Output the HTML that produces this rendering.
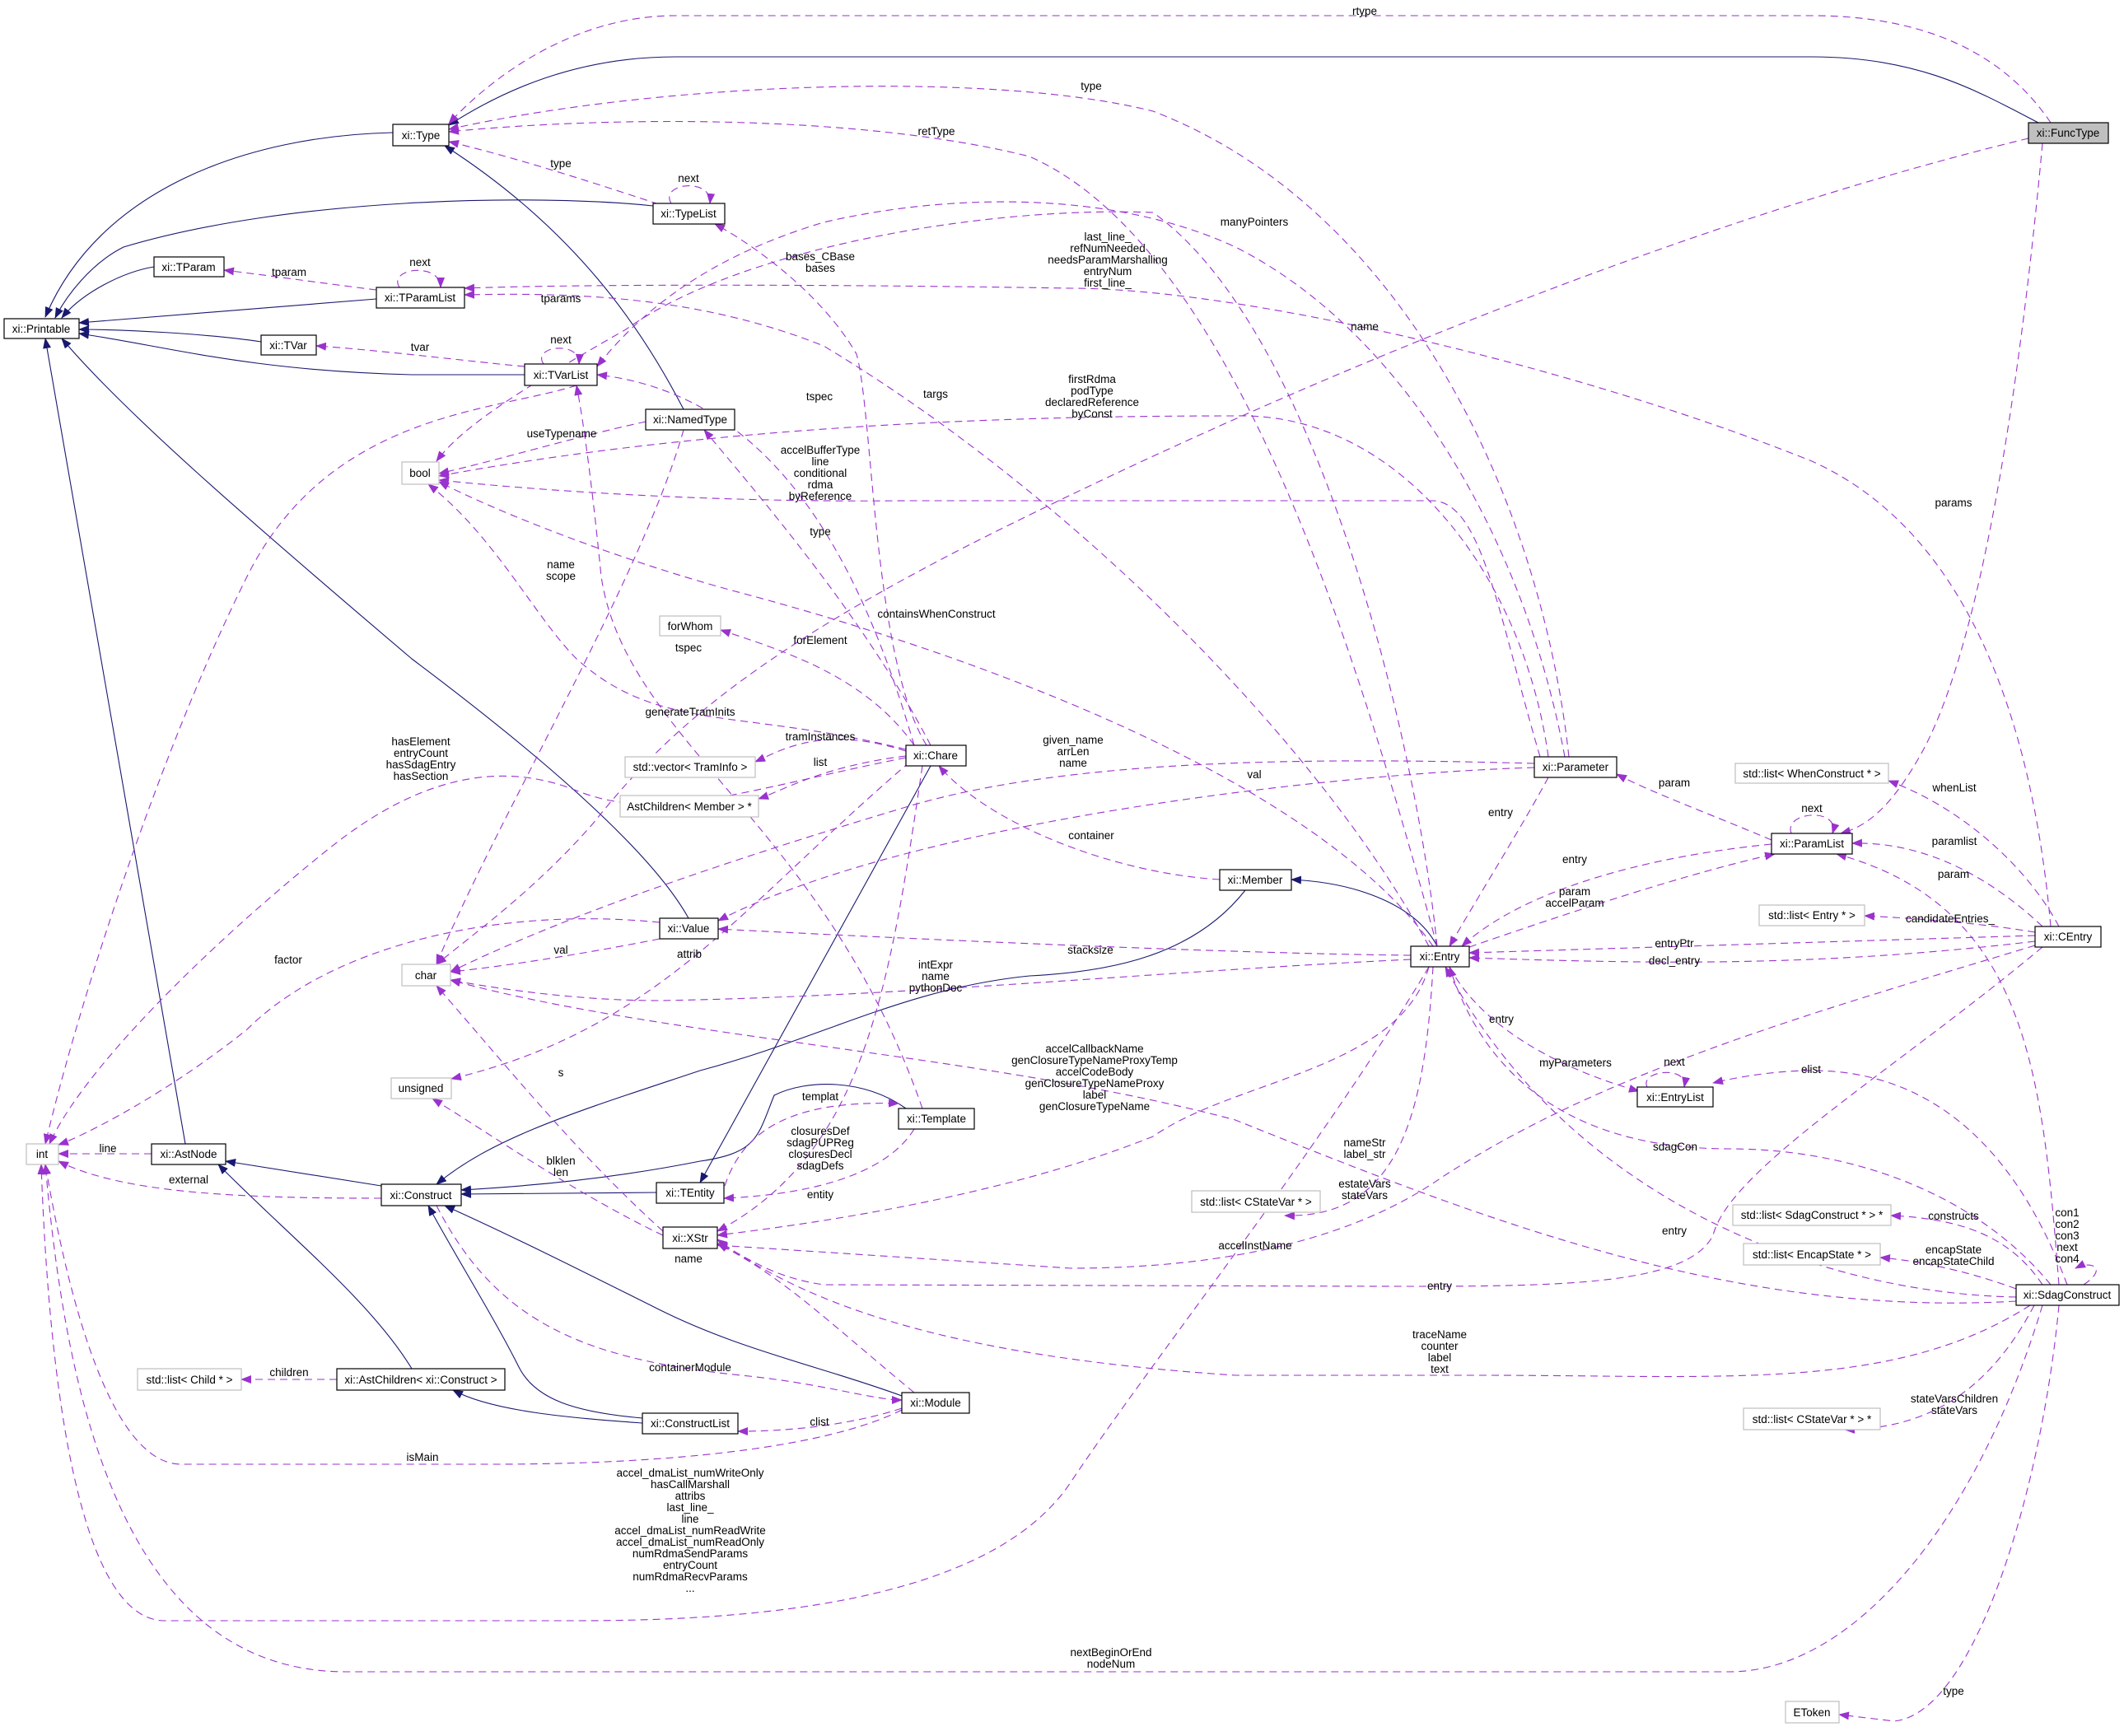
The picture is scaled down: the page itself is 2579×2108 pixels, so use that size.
<!DOCTYPE html>
<html><head><meta charset="utf-8"><style>
html,body{margin:0;padding:0;background:#fff;}
svg{display:block;}
text{font-family:"Liberation Sans",sans-serif;font-size:13.5px;fill:#000;}
.n{fill:#fff;stroke:#000;stroke-width:1.2;}
.g{fill:#fff;stroke:#bfbfbf;stroke-width:1.2;}
.d{fill:none;stroke:#9a32cd;stroke-width:1.1;stroke-dasharray:9,6;}
.s{fill:none;stroke:#191970;stroke-width:1.1;}
</style></head><body>
<svg width="2579" height="2108" viewBox="0 0 2579 2108" xmlns="http://www.w3.org/2000/svg">
<defs>
<marker id="p" markerWidth="13" markerHeight="10" refX="12" refY="5" orient="auto" markerUnits="userSpaceOnUse"><path d="M0,0 L13,5 L0,10 z" fill="#9a32cd"/></marker>
<marker id="b" markerWidth="13" markerHeight="10" refX="12" refY="5" orient="auto" markerUnits="userSpaceOnUse"><path d="M0,0 L13,5 L0,10 z" fill="#191970"/></marker>
</defs>
<g marker-end="url(#b)">
<path class="s" d="M2475,149 C2400,110 2330,69 2200,69 L820,69 C700,69 610,110 545,152"/>
<path class="s" d="M477,161 C300,165 120,230 55,385"/>
<path class="s" d="M793,250 C650,235 350,240 150,300 C110,320 80,360 67,386"/>
<path class="s" d="M187,324 C150,330 100,355 75,386"/>
<path class="s" d="M457,363 L96,392"/>
<path class="s" d="M317,415 C250,405 150,400 96,400"/>
<path class="s" d="M637,455 L500,455 C300,450 200,420 96,405"/>
<path class="s" d="M225,1389 L55,411"/>
<path class="s" d="M836,1115 C800,1050 700,950 500,800 C300,630 150,500 75,411"/>
<path class="s" d="M830,497 C780,400 700,280 540,177"/>
<path class="s" d="M1512,1081 C1450,1160 1350,1180 1250,1185 C1100,1200 1000,1260 850,1300 C700,1350 600,1380 530,1438"/>
<path class="s" d="M1745,1149 C1720,1100 1650,1072 1568,1068"/>
<path class="s" d="M1130,930 L850,1436"/>
<path class="s" d="M797,1448 L560,1450"/>
<path class="s" d="M1100,1346 C1050,1310 980,1310 940,1330 C920,1380 920,1400 850,1410 C750,1430 650,1440 560,1445"/>
<path class="s" d="M463,1440 L274,1410"/>
<path class="s" d="M500,1662 C450,1580 350,1500 265,1414"/>
<path class="s" d="M780,1722 C700,1715 650,1700 630,1660 C600,1600 550,1520 520,1464"/>
<path class="s" d="M780,1728 C700,1722 600,1715 550,1688"/>
<path class="s" d="M1095,1695 C1000,1660 900,1640 800,1590 C700,1540 620,1500 540,1464"/>
</g>
<g marker-end="url(#p)">
<path class="d" d="M2490,149 C2430,60 2330,19 2200,19 L820,19 C700,19 600,90 545,150"/>
<path class="d" d="M1905,919 C1870,600 1700,250 1400,135 C1200,85 800,100 545,157"/>
<path class="d" d="M1745,1149 C1650,800 1500,300 1250,190 C1050,140 750,140 545,160"/>
<path class="d" d="M800,248 C700,215 620,190 545,172"/>
<path class="d" d="M815,247 C800,222 865,215 862,247"/>
<path class="d" d="M1125,905 C1060,800 1060,500 1040,430 C1000,360 920,300 868,272"/>
<path class="d" d="M457,352 C400,345 330,335 272,328"/>
<path class="d" d="M485,349 C470,325 535,318 535,349"/>
<path class="d" d="M1735,1149 C1600,900 1300,600 1000,420 C850,360 700,355 564,358"/>
<path class="d" d="M2490,1125 C2470,900 2400,650 2200,560 C1900,440 1500,350 1300,350 C1000,345 700,345 564,350"/>
<path class="d" d="M637,445 C580,440 460,425 384,420"/>
<path class="d" d="M660,442 C645,420 705,413 703,442"/>
<path class="d" d="M1110,905 C1050,700 950,480 725,455"/>
<path class="d" d="M1120,1346 C1000,1000 760,900 730,700 C720,600 710,520 700,468"/>
<path class="d" d="M784,512 C700,530 600,560 533,575"/>
<path class="d" d="M1880,919 C1850,700 1700,500 1500,505 C1300,505 900,510 533,578"/>
<path class="d" d="M1870,919 C1820,750 1800,610 1740,608 L1100,608 C900,610 700,600 533,583"/>
<path class="d" d="M1745,1149 C1720,900 1600,400 1400,258 C1200,250 900,300 760,400 C620,480 560,520 530,560"/>
<path class="d" d="M1900,919 C1850,650 1700,400 1500,300 C1350,230 1150,235 1000,270 C900,300 800,350 725,445"/>
<path class="d" d="M2463,168 C2000,280 1500,500 1200,650 C900,800 800,900 720,1000 C650,1080 580,1130 530,1171"/>
<path class="d" d="M2480,174 C2450,500 2400,800 2330,920 C2290,990 2260,1005 2235,1012"/>
<path class="d" d="M1713,1160 C1500,1158 1100,1140 872,1128"/>
<path class="d" d="M1863,932 C1600,940 1100,1000 872,1118"/>
<path class="d" d="M1863,927 C1600,920 1300,920 1100,980 C800,1070 650,1130 547,1180"/>
<path class="d" d="M1481,1068 C1350,1060 1200,1000 1140,930"/>
<path class="d" d="M1784,1150 C1900,1110 2050,1060 2155,1037"/>
<path class="d" d="M2151,1020 C2080,990 2000,960 1963,940"/>
<path class="d" d="M2175,1012 C2165,985 2235,980 2225,1012"/>
<path class="d" d="M2151,1025 C2000,1040 1850,1080 1775,1149"/>
<path class="d" d="M1880,944 C1850,1000 1800,1080 1760,1149"/>
<path class="d" d="M2480,1125 C2400,1050 2320,1022 2249,1024"/>
<path class="d" d="M2500,1125 C2460,1050 2380,980 2293,948"/>
<path class="d" d="M2471,1132 C2400,1120 2320,1115 2264,1112"/>
<path class="d" d="M2471,1136 L1784,1157"/>
<path class="d" d="M2471,1143 C2200,1175 2000,1170 1784,1163"/>
<path class="d" d="M2500,1560 C2480,1300 2460,1100 2230,1037"/>
<path class="d" d="M1760,1174 C1800,1250 1900,1300 1990,1325"/>
<path class="d" d="M2000,1320 C1990,1300 2050,1293 2045,1320"/>
<path class="d" d="M2510,1560 C2450,1400 2350,1300 2200,1300 C2150,1300 2100,1310 2080,1315"/>
<path class="d" d="M2490,1560 C2400,1450 2250,1395 2100,1395 C1900,1395 1800,1300 1760,1174"/>
<path class="d" d="M2448,1575 C2200,1570 1900,1450 1755,1174"/>
<path class="d" d="M2530,1560 C2560,1540 2540,1530 2520,1540"/>
<path class="d" d="M2480,1560 C2440,1500 2380,1480 2296,1476"/>
<path class="d" d="M2448,1565 C2380,1540 2320,1530 2283,1527"/>
<path class="d" d="M2470,1585 C2420,1680 2350,1735 2240,1736"/>
<path class="d" d="M2500,1585 C2480,1800 2400,2080 2300,2090 L2233,2082"/>
<path class="d" d="M2480,1585 C2400,1850 2250,2030 2100,2030 L420,2030 C150,2030 80,1700 55,1414"/>
<path class="d" d="M2465,1585 C2300,1690 2100,1670 1800,1670 L1500,1670 C1200,1650 1000,1600 871,1505"/>
<path class="d" d="M2448,1580 C2100,1600 1800,1480 1500,1360 C1200,1280 800,1260 547,1190"/>
<path class="d" d="M2480,1150 C2300,1300 2100,1420 2080,1500 C2050,1560 1900,1562 1700,1562 L1000,1560 C930,1550 900,1520 871,1510"/>
<path class="d" d="M2471,1148 C2200,1230 1950,1300 1750,1430 C1650,1500 1500,1540 1300,1540 L871,1512"/>
<path class="d" d="M1740,1174 C1730,1350 1700,1480 1560,1476"/>
<path class="d" d="M1735,1174 C1700,1300 1500,1310 1400,1380 C1200,1460 950,1490 871,1500"/>
<path class="d" d="M1735,1174 C1600,1400 1400,1650 1300,1800 C1200,1950 900,1968 700,1968 L200,1968 C100,1968 60,1700 50,1414"/>
<path class="d" d="M1095,1712 C1000,1760 800,1778 600,1778 L220,1778 C120,1778 70,1500 55,1414"/>
<path class="d" d="M1095,1710 C1050,1725 980,1738 896,1738"/>
<path class="d" d="M530,1464 C600,1600 700,1650 900,1670 C1000,1680 1060,1700 1095,1700"/>
<path class="d" d="M409,1675 L293,1675"/>
<path class="d" d="M184,1401 L71,1401"/>
<path class="d" d="M463,1455 C300,1455 150,1450 71,1410"/>
<path class="d" d="M801,1120 C600,1100 400,1150 300,1250 C200,1330 100,1380 71,1390"/>
<path class="d" d="M801,1140 C700,1160 600,1175 547,1180"/>
<path class="d" d="M1105,925 C900,1100 800,1250 548,1310"/>
<path class="d" d="M880,1440 C900,1380 950,1335 1091,1340"/>
<path class="d" d="M1110,1371 C1080,1420 1000,1450 879,1455"/>
<path class="d" d="M1120,930 C1080,1200 1050,1400 871,1495"/>
<path class="d" d="M805,1495 C700,1400 620,1300 530,1197"/>
<path class="d" d="M805,1500 C700,1450 600,1380 525,1334"/>
<path class="d" d="M1110,1691 C1000,1600 950,1550 871,1510"/>
<path class="d" d="M1713,1165 C1400,1180 1100,1210 800,1215 C700,1215 600,1200 547,1190"/>
<path class="d" d="M1110,905 C1050,820 950,790 875,765"/>
<path class="d" d="M1100,912 C1000,880 950,910 917,925"/>
<path class="d" d="M1100,918 C1000,930 950,960 921,970"/>
<path class="d" d="M1100,910 C900,860 800,890 700,800 C650,750 600,650 520,588"/>
<path class="d" d="M1100,920 C900,960 800,1000 700,960 C600,920 500,950 400,1030 C250,1150 100,1300 60,1389"/>
<path class="d" d="M1130,905 C1050,750 920,600 855,522"/>
<path class="d" d="M1740,1149 C1600,950 1200,800 900,720 C750,680 600,620 533,585"/>
<path class="d" d="M830,522 C780,700 600,1000 530,1171"/>
<path class="d" d="M700,468 C600,500 400,500 300,700 C200,900 100,1200 55,1389"/>
</g>
<rect class="g" x="2463" y="149" width="97" height="25" style="fill:#bfbfbf;stroke:#000"/><text x="2511" y="166" text-anchor="middle">xi::FuncType</text>
<rect class="n" x="477" y="151" width="68" height="26"/><text x="511" y="169" text-anchor="middle">xi::Type</text>
<rect class="n" x="793" y="247" width="87" height="25"/><text x="836" y="264" text-anchor="middle">xi::TypeList</text>
<rect class="n" x="187" y="312" width="85" height="24"/><text x="229" y="329" text-anchor="middle">xi::TParam</text>
<rect class="n" x="457" y="349" width="107" height="25"/><text x="510" y="366" text-anchor="middle">xi::TParamList</text>
<rect class="n" x="5" y="387" width="91" height="24"/><text x="50" y="404" text-anchor="middle">xi::Printable</text>
<rect class="n" x="317" y="407" width="67" height="24"/><text x="350" y="424" text-anchor="middle">xi::TVar</text>
<rect class="n" x="637" y="442" width="88" height="26"/><text x="681" y="460" text-anchor="middle">xi::TVarList</text>
<rect class="n" x="784" y="497" width="108" height="25"/><text x="838" y="514" text-anchor="middle">xi::NamedType</text>
<rect class="g" x="488" y="561" width="45" height="27"/><text x="510" y="579" text-anchor="middle">bool</text>
<rect class="g" x="801" y="748" width="74" height="24"/><text x="838" y="765" text-anchor="middle">forWhom</text>
<rect class="g" x="759" y="919" width="158" height="25"/><text x="838" y="936" text-anchor="middle">std::vector&lt; TramInfo &gt;</text>
<rect class="g" x="753" y="966" width="168" height="26"/><text x="837" y="984" text-anchor="middle">AstChildren&lt; Member &gt; *</text>
<rect class="n" x="1100" y="905" width="73" height="25"/><text x="1136" y="922" text-anchor="middle">xi::Chare</text>
<rect class="n" x="1863" y="919" width="100" height="25"/><text x="1913" y="936" text-anchor="middle">xi::Parameter</text>
<rect class="g" x="2107" y="927" width="186" height="24"/><text x="2200" y="944" text-anchor="middle">std::list&lt; WhenConstruct * &gt;</text>
<rect class="n" x="2151" y="1012" width="98" height="25"/><text x="2200" y="1029" text-anchor="middle">xi::ParamList</text>
<rect class="n" x="801" y="1115" width="71" height="25"/><text x="836" y="1132" text-anchor="middle">xi::Value</text>
<rect class="g" x="488" y="1171" width="59" height="26"/><text x="517" y="1189" text-anchor="middle">char</text>
<rect class="g" x="475" y="1309" width="73" height="25"/><text x="511" y="1326" text-anchor="middle">unsigned</text>
<rect class="g" x="32" y="1389" width="39" height="25"/><text x="51" y="1406" text-anchor="middle">int</text>
<rect class="n" x="184" y="1389" width="90" height="25"/><text x="229" y="1406" text-anchor="middle">xi::AstNode</text>
<rect class="n" x="463" y="1438" width="97" height="26"/><text x="511" y="1456" text-anchor="middle">xi::Construct</text>
<rect class="n" x="797" y="1436" width="82" height="25"/><text x="838" y="1453" text-anchor="middle">xi::TEntity</text>
<rect class="n" x="1091" y="1346" width="92" height="25"/><text x="1137" y="1363" text-anchor="middle">xi::Template</text>
<rect class="n" x="805" y="1490" width="66" height="26"/><text x="838" y="1508" text-anchor="middle">xi::XStr</text>
<rect class="g" x="167" y="1662" width="126" height="26"/><text x="230" y="1680" text-anchor="middle">std::list&lt; Child * &gt;</text>
<rect class="n" x="409" y="1662" width="204" height="26"/><text x="511" y="1680" text-anchor="middle">xi::AstChildren&lt; xi::Construct &gt;</text>
<rect class="n" x="780" y="1716" width="116" height="25"/><text x="838" y="1733" text-anchor="middle">xi::ConstructList</text>
<rect class="n" x="1095" y="1691" width="82" height="25"/><text x="1136" y="1708" text-anchor="middle">xi::Module</text>
<rect class="n" x="1481" y="1056" width="87" height="25"/><text x="1524" y="1073" text-anchor="middle">xi::Member</text>
<rect class="n" x="1713" y="1149" width="71" height="25"/><text x="1748" y="1166" text-anchor="middle">xi::Entry</text>
<rect class="g" x="2136" y="1099" width="128" height="25"/><text x="2200" y="1116" text-anchor="middle">std::list&lt; Entry * &gt;</text>
<rect class="n" x="2471" y="1125" width="80" height="25"/><text x="2511" y="1142" text-anchor="middle">xi::CEntry</text>
<rect class="n" x="1988" y="1320" width="92" height="24"/><text x="2034" y="1337" text-anchor="middle">xi::EntryList</text>
<rect class="g" x="1447" y="1446" width="156" height="26"/><text x="1525" y="1464" text-anchor="middle">std::list&lt; CStateVar * &gt;</text>
<rect class="g" x="2104" y="1463" width="192" height="25"/><text x="2200" y="1480" text-anchor="middle">std::list&lt; SdagConstruct * &gt; *</text>
<rect class="g" x="2117" y="1510" width="166" height="26"/><text x="2200" y="1528" text-anchor="middle">std::list&lt; EncapState * &gt;</text>
<rect class="n" x="2448" y="1560" width="125" height="25"/><text x="2510" y="1577" text-anchor="middle">xi::SdagConstruct</text>
<rect class="g" x="2117" y="1710" width="166" height="26"/><text x="2200" y="1728" text-anchor="middle">std::list&lt; CStateVar * &gt; *</text>
<rect class="g" x="2168" y="2066" width="65" height="26"/><text x="2200" y="2084" text-anchor="middle">EToken</text>
<g text-anchor="middle">
<text x="1657" y="18">rtype</text>
<text x="1325" y="109">type</text>
<text x="1137" y="164">retType</text>
<text x="681" y="203">type</text>
<text x="836" y="221">next</text>
<text x="996" y="316">bases_CBase</text><text x="996" y="330">bases</text>
<text x="510" y="323">next</text>
<text x="351" y="335">tparam</text>
<text x="681" y="367">tparams</text>
<text x="681" y="417">next</text>
<text x="510" y="426">tvar</text>
<text x="995" y="486">tspec</text>
<text x="1136" y="483">targs</text>
<text x="682" y="531">useTypename</text>
<text x="996" y="551">accelBufferType</text><text x="996" y="565">line</text><text x="996" y="579">conditional</text><text x="996" y="593">rdma</text><text x="996" y="607">byReference</text>
<text x="996" y="650">type</text>
<text x="681" y="690">name</text><text x="681" y="704">scope</text>
<text x="1137" y="750">containsWhenConstruct</text>
<text x="996" y="782">forElement</text>
<text x="836" y="791">tspec</text>
<text x="838" y="869">generateTramInits</text>
<text x="996" y="899">tramInstances</text>
<text x="996" y="930">list</text>
<text x="511" y="905">hasElement</text><text x="511" y="919">entryCount</text><text x="511" y="933">hasSdagEntry</text><text x="511" y="947">hasSection</text>
<text x="1523" y="274">manyPointers</text>
<text x="1345" y="292">last_line_</text><text x="1345" y="306">refNumNeeded</text><text x="1345" y="320">needsParamMarshalling</text><text x="1345" y="334">entryNum</text><text x="1345" y="348">first_line_</text>
<text x="1657" y="401">name</text>
<text x="1326" y="465">firstRdma</text><text x="1326" y="479">podType</text><text x="1326" y="493">declaredReference</text><text x="1326" y="507">byConst</text>
<text x="2372" y="615">params</text>
<text x="1303" y="903">given_name</text><text x="1303" y="917">arrLen</text><text x="1303" y="931">name</text>
<text x="1523" y="945">val</text>
<text x="2033" y="955">param</text>
<text x="2373" y="961">whenList</text>
<text x="2200" y="986">next</text>
<text x="1822" y="991">entry</text>
<text x="2373" y="1026">paramlist</text>
<text x="1325" y="1019">container</text>
<text x="1912" y="1048">entry</text>
<text x="350" y="1170">factor</text>
<text x="681" y="1158">val</text>
<text x="837" y="1163">attrib</text>
<text x="1136" y="1176">intExpr</text><text x="1136" y="1190">name</text><text x="1136" y="1204">pythonDoc</text>
<text x="681" y="1307">s</text>
<text x="996" y="1336">templat</text>
<text x="996" y="1378">closuresDef</text><text x="996" y="1392">sdagPUPReg</text><text x="996" y="1406">closuresDecl</text><text x="996" y="1420">sdagDefs</text>
<text x="681" y="1414">blklen</text><text x="681" y="1428">len</text>
<text x="131" y="1399">line</text>
<text x="229" y="1437">external</text>
<text x="996" y="1455">entity</text>
<text x="836" y="1533">name</text>
<text x="351" y="1671">children</text>
<text x="838" y="1665">containerModule</text>
<text x="995" y="1731">clist</text>
<text x="513" y="1774">isMain</text>
<text x="838" y="1793">accel_dmaList_numWriteOnly</text><text x="838" y="1807">hasCallMarshall</text><text x="838" y="1821">attribs</text><text x="838" y="1835">last_line_</text><text x="838" y="1849">line</text><text x="838" y="1863">accel_dmaList_numReadWrite</text><text x="838" y="1877">accel_dmaList_numReadOnly</text><text x="838" y="1891">numRdmaSendParams</text><text x="838" y="1905">entryCount</text><text x="838" y="1919">numRdmaRecvParams</text><text x="838" y="1933">...</text>
<text x="1349" y="2011">nextBeginOrEnd</text><text x="1349" y="2025">nodeNum</text>
<text x="2372" y="1066">param</text>
<text x="1912" y="1087">param</text><text x="1912" y="1101">accelParam</text>
<text x="2368" y="1120">candidateEntries_</text>
<text x="1324" y="1158">stacksize</text>
<text x="2033" y="1150">entryPtr</text>
<text x="2033" y="1171">decl_entry</text>
<text x="1823" y="1242">entry</text>
<text x="1329" y="1278">accelCallbackName</text><text x="1329" y="1292">genClosureTypeNameProxyTemp</text><text x="1329" y="1306">accelCodeBody</text><text x="1329" y="1320">genClosureTypeNameProxy</text><text x="1329" y="1334">label</text><text x="1329" y="1348">genClosureTypeName</text>
<text x="1913" y="1295">myParameters</text>
<text x="2033" y="1294">next</text>
<text x="2199" y="1303">elist</text>
<text x="1657" y="1392">nameStr</text><text x="1657" y="1406">label_str</text>
<text x="2034" y="1397">sdagCon</text>
<text x="1657" y="1442">estateVars</text><text x="1657" y="1456">stateVars</text>
<text x="2372" y="1481">constructs</text>
<text x="2510" y="1477">con1</text><text x="2510" y="1491">con2</text><text x="2510" y="1505">con3</text><text x="2510" y="1519">next</text><text x="2510" y="1533">con4</text>
<text x="2033" y="1499">entry</text>
<text x="1524" y="1517">accelInstName</text>
<text x="2372" y="1522">encapState</text><text x="2372" y="1536">encapStateChild</text>
<text x="1748" y="1566">entry</text>
<text x="1748" y="1625">traceName</text><text x="1748" y="1639">counter</text><text x="1748" y="1653">label</text><text x="1748" y="1667">text</text>
<text x="2373" y="1703">stateVarsChildren</text><text x="2373" y="1717">stateVars</text>
<text x="2372" y="2058">type</text>
</g>
</svg>
</body></html>
